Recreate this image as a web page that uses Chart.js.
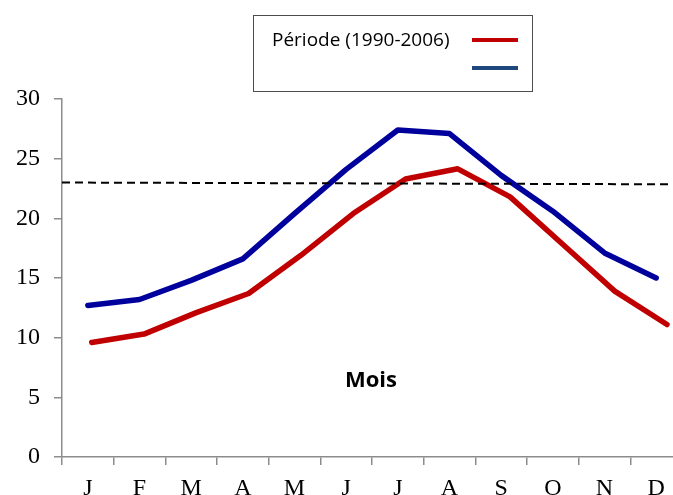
<!DOCTYPE html>
<html>
<head>
<meta charset="utf-8">
<script src="https://cdn.jsdelivr.net/npm/chart.js@4/dist/chart.umd.min.js"></script>
<style>
  html, body { margin: 0; padding: 0; background: #fff; overflow: hidden; width: 673px; height: 495px; }
  #wrap { position: absolute; left: 0; top: 0; width: 690px; height: 495px; }
</style>
</head>
<body>
<div id="wrap"><canvas id="c" width="690" height="495"></canvas></div>
<script>
// ---- data ----
const months = ['J', 'F', 'M', 'A', 'M', 'J', 'J', 'A', 'S', 'O', 'N', 'D'];
const blueSeries = [12.7, 13.2, 14.8, 16.6, 20.4, 24.1, 27.4, 27.1, 23.6, 20.6, 17.1, 15.0];
const redSeries = [9.6, 10.3, 12.1, 13.7, 16.9, 20.4, 23.3, 24.15, 21.8, 17.85, 13.9, 11.1];
const refLine = [23.0, 22.85];
const yTicks = [0, 5, 10, 15, 20, 25, 30];
const legendLabel = 'Période (1990-2006)';
const axisTitle = 'Mois';

const AXIS = '#8c8c8c';

const overlay = {
  id: 'overlay',
  afterDraw(chart) {
    const ctx = chart.ctx;
    ctx.save();
    // legend box
    ctx.strokeStyle = '#4d4d4d';
    ctx.lineWidth = 1;
    ctx.strokeRect(253.5, 15.5, 279, 76);
    ctx.fillStyle = '#000';
    ctx.font = '19px "Open Sans"';
    ctx.textAlign = 'left';
    ctx.textBaseline = 'alphabetic';
    ctx.fillText(legendLabel, 272, 46);
    ctx.lineWidth = 4;
    ctx.strokeStyle = '#C00000';
    ctx.beginPath(); ctx.moveTo(472, 40); ctx.lineTo(518, 40); ctx.stroke();
    ctx.strokeStyle = '#1F497D';
    ctx.beginPath(); ctx.moveTo(472, 68); ctx.lineTo(518, 68); ctx.stroke();
    // "Mois"
    ctx.font = 'bold 22px "Open Sans"';
    ctx.textAlign = 'center';
    ctx.fillText(axisTitle, 371, 387);
    ctx.restore();
  }
};

new Chart(document.getElementById('c'), {
  type: 'line',
  data: {
    labels: months,
    datasets: [
      {
        label: 'ref',
        data: refLine.map((v, i) => ({ x: i, y: v })),
        xAxisID: 'x3',
        borderColor: '#000',
        borderWidth: 2,
        borderDash: [8, 5],
        pointRadius: 0,
        fill: false
      },
      {
        label: 'blue',
        data: blueSeries,
        xAxisID: 'x',
        borderColor: '#00009C',
        borderWidth: 5.5,
        borderCapStyle: 'round',
        borderJoinStyle: 'round',
        pointRadius: 0,
        tension: 0,
        fill: false
      },
      {
        label: legendLabel,
        data: redSeries.map((v, i) => ({ x: i, y: v })),
        xAxisID: 'x2',
        borderColor: '#C00000',
        borderWidth: 5.5,
        borderCapStyle: 'round',
        borderJoinStyle: 'round',
        pointRadius: 0,
        tension: 0,
        fill: false
      }
    ]
  },
  options: {
    responsive: false,
    animation: false,
    devicePixelRatio: 1,
    layout: { padding: { top: 99, right: 8, left: 0, bottom: 0 } },
    plugins: { legend: { display: false }, tooltip: { enabled: false } },
    scales: {
      x: {
        type: 'category',
        offset: true,
        grid: { drawOnChartArea: false, drawTicks: true, tickLength: 8, color: AXIS, lineWidth: 1.5, offset: true },
        border: { display: true, color: AXIS, width: 1.5 },
        ticks: { color: '#000', font: { family: '"Liberation Serif"', size: 24 }, padding: 9, maxRotation: 0, autoSkip: false },
        afterFit(s) { s.height = 38; }
      },
      x2: { type: 'linear', display: false, min: -0.568, max: 11.287 },
      x3: { type: 'linear', display: false, min: 0, max: 1 },
      y: {
        min: 0, max: 30,
        afterBuildTicks(s) { s.ticks = yTicks.map(v => ({ value: v })); },
        grid: { drawOnChartArea: false, drawTicks: true, tickLength: 8, color: AXIS, lineWidth: 1.5 },
        border: { display: true, color: AXIS, width: 1.5 },
        ticks: { color: '#000', font: { family: '"Liberation Serif"', size: 24 }, padding: 14 },
        afterFit(s) { s.width = 62; }
      }
    }
  },
  plugins: [overlay]
});
</script>
</body>
</html>
